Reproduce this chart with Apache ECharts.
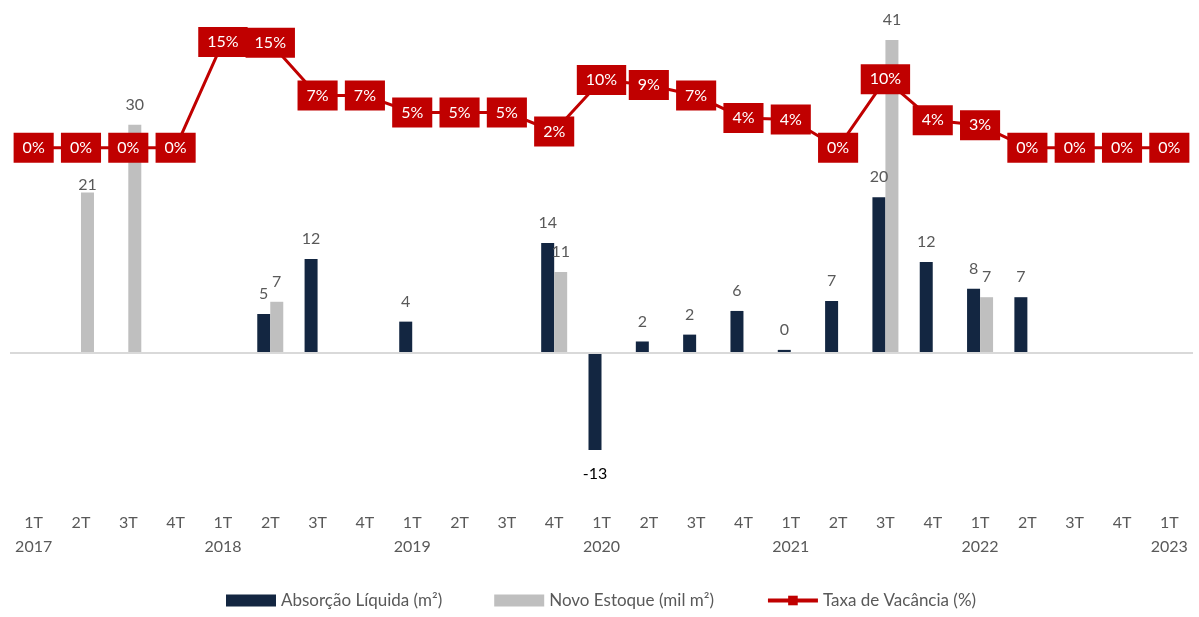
<!DOCTYPE html>
<html>
<head>
<meta charset="utf-8">
<script src="https://cdn.jsdelivr.net/npm/echarts@6/dist/echarts.min.js"></script>
<style>
  html, body { margin: 0; padding: 0; background: #fff; }
  #chart { width: 1199px; height: 617px; }
</style>
</head>
<body>
<div id="chart"></div>
<script>
const quarters = ['1T', '2T', '3T', '4T', '1T', '2T', '3T', '4T', '1T', '2T', '3T', '4T', '1T',
  '2T', '3T', '4T', '1T', '2T', '3T', '4T', '1T', '2T', '3T', '4T', '1T']
const years = ['2017', '', '', '', '2018', '', '', '', '2019', '', '', '', '2020',
  '', '', '', '2021', '', '', '', '2022', '', '', '', '2023']

const absorcao = [null, null, null, null, null, 5.1, 12.3, null, 4.1, null, null, 14.4, -12.7,
  1.5, 2.4, 5.5, 0.4, 6.8, 20.4, 11.9, 8.4, 7.3, null, null, null]
const novoEstoque = [null, 21, 29.9, null, null, 6.7, null, null, null, null, null, 10.6, null,
  null, null, null, null, null, 41, null, 7.3, null, null, null, null]
const vacancia = [0, 0, 0, 0, 15, 14.9, 7.4, 7.4, 5, 5, 5, 2.3, 9.6,
  8.9, 7.4, 4.2, 4, 0, 9.7, 3.9, 3.2, 0, 0, 0, 0]

const FONT = 'Lato, "Open Sans", sans-serif'
const categories = quarters.map((q, i) => years[i] ? q + '\n' + years[i] : q)

const barLabel = {
  show: true,
  position: 'top',
  distance: 12,
  color: '#595959',
  fontSize: 16,
  fontFamily: FONT,
  formatter: p => Math.round(p.value)
}

const absData = absorcao.map(v => {
  if (v !== null && v < 0) {
    return { value: v, label: { position: 'bottom', distance: 16, color: '#000' } }
  }
  return v
})
const estData = novoEstoque.map((v, i) => {
  if (i === 1) return { value: v, label: { distance: 0 } }
  return v
})

const chart = echarts.init(document.getElementById('chart'))
chart.setOption({
  animation: false,
  textStyle: { fontFamily: FONT },
  grid: { left: 10, right: 6, top: 17, height: 481 },
  legend: {
    bottom: 3,
    left: 221,
    itemWidth: 50,
    itemHeight: 12,
    itemGap: 52,
    textStyle: { color: '#595959', fontSize: 17, fontFamily: FONT },
    data: [
      { name: 'Absorção Líquida (m²)', icon: 'rect' },
      { name: 'Novo Estoque (mil m²)', icon: 'rect' },
      { name: 'Taxa de Vacância (%)', lineStyle: { width: 4 } }
    ]
  },
  xAxis: {
    type: 'category',
    data: categories,
    position: 'bottom',
    axisLine: { show: false, onZero: false },
    axisTick: { show: false },
    axisLabel: {
      color: '#595959',
      fontSize: 16,
      fontFamily: FONT,
      lineHeight: 24,
      margin: 13,
      interval: 0
    }
  },
  yAxis: [
    { type: 'value', min: -19, max: 44, show: false, splitLine: { show: false } },
    { type: 'value', min: -49.69, max: 18.54, show: false, splitLine: { show: false } }
  ],
  series: [
    {
      name: 'Absorção Líquida (m²)',
      type: 'bar',
      data: absData,
      barWidth: 13,
      barGap: '0%',
      itemStyle: { color: '#132641' },
      label: barLabel,
      markLine: {
        silent: true,
        symbol: 'none',
        label: { show: false },
        lineStyle: { color: '#d9d9d9', type: 'solid', width: 2 },
        data: [{ yAxis: 0 }]
      }
    },
    {
      name: 'Novo Estoque (mil m²)',
      type: 'bar',
      data: estData,
      barWidth: 13,
      barGap: '0%',
      itemStyle: { color: '#bfbfbf' },
      label: barLabel
    },
    {
      name: 'Taxa de Vacância (%)',
      type: 'line',
      yAxisIndex: 1,
      data: vacancia,
      symbol: 'rect',
      symbolSize: 10,
      z: 5,
      lineStyle: { color: '#c00000', width: 3 },
      itemStyle: { color: '#c00000' },
      label: {
        show: true,
        position: 'inside',
        color: '#fff',
        fontSize: 16,
        lineHeight: 18,
        fontFamily: FONT,
        backgroundColor: '#c00000',
        padding: [6, 9],
        formatter: p => Math.round(p.value) + '%'
      }
    }
  ]
})
</script>
</body>
</html>
